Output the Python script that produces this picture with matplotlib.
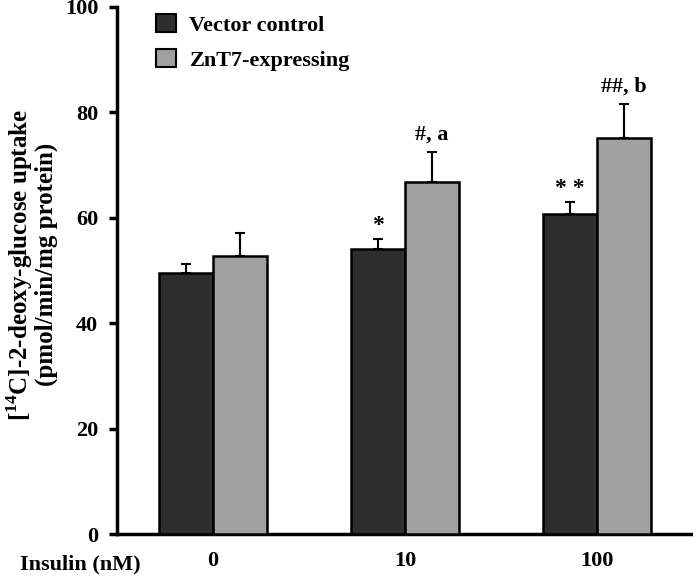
import numpy as np
import matplotlib
matplotlib.use("Agg")
import matplotlib.pyplot as plt
from matplotlib.patches import Patch

plt.rcParams["font.family"] = "Liberation Serif"
plt.rcParams["font.weight"] = "bold"
plt.rcParams["mathtext.fontset"] = "custom"
plt.rcParams["mathtext.rm"] = "Liberation Serif:bold"
plt.rcParams["mathtext.bf"] = "Liberation Serif:bold"

# data
insulin = ["0", "10", "100"]
vector = [49.5, 54.1, 60.7]
vector_err = [1.7, 1.9, 2.3]
znt7 = [52.8, 66.8, 75.1]
znt7_err = [4.3, 5.7, 6.5]
vector_marks = ["", "*", "* *"]
znt7_marks = ["", "#, a", "##, b"]

dark = "#2e2e2e"
grey = "#a0a0a0"
width = 0.28

fig = plt.figure(figsize=(6.93, 5.77), dpi=100)
ax = fig.add_axes([0.169, 0.0745, 0.831, 0.9135])

x = np.arange(len(insulin))
ax.bar(x - width/2, vector, width, color=dark, edgecolor="black", linewidth=1.8, zorder=3)
ax.bar(x + width/2, znt7, width, color=grey, edgecolor="black", linewidth=1.8, zorder=3)
ax.errorbar(x - width/2, vector, yerr=[np.zeros(3), vector_err], fmt="none",
            ecolor="black", elinewidth=1.5, capsize=3.5, capthick=1.5, zorder=2)
ax.errorbar(x + width/2, znt7, yerr=[np.zeros(3), znt7_err], fmt="none",
            ecolor="black", elinewidth=1.5, capsize=3.5, capthick=1.5, zorder=2)

for i in range(len(insulin)):
    if vector_marks[i]:
        ax.text(x[i] - width/2, vector[i] + vector_err[i] + 0.6, vector_marks[i],
                ha="center", va="bottom", fontsize=17, fontweight="bold")
    if znt7_marks[i]:
        ax.text(x[i] + width/2, znt7[i] + znt7_err[i] + 1.4, znt7_marks[i],
                ha="center", va="bottom", fontsize=16, fontweight="bold")

ax.set_xlim(-0.5, 2.5)
ax.set_ylim(0, 100)
ax.set_yticks([0, 20, 40, 60, 80, 100])
ax.set_xticks(x)
ax.set_xticklabels(insulin)
ax.tick_params(axis="x", length=0, pad=12, labelsize=16)
ax.tick_params(axis="y", length=6, width=2.5, pad=7.5, labelsize=16)
for s in ["top", "right"]:
    ax.spines[s].set_visible(False)
ax.spines["left"].set_linewidth(2.5)
ax.spines["bottom"].set_linewidth(2.5)

fig.text(0.029, 0.013, "Insulin (nM)", fontsize=16, fontweight="bold", va="baseline")
fig.text(0.045, 0.541, "[$^{14}$C]-2-deoxy-glucose uptake\n(pmol/min/mg protein)",
         rotation=90, ha="center", va="center", fontsize=18, fontweight="bold",
         multialignment="center", linespacing=1.0)

handles = [Patch(facecolor=dark, edgecolor="black", linewidth=1.5),
           Patch(facecolor=grey, edgecolor="black", linewidth=1.5)]
ax.legend(handles, ["Vector control", "ZnT7-expressing"], loc="upper left",
          bbox_to_anchor=(0.033, 1.025), frameon=False, fontsize=16,
          handlelength=0.9, handleheight=0.9, handletextpad=0.6, labelspacing=0.6)

fig.savefig("out.png", dpi=100, facecolor="white")
